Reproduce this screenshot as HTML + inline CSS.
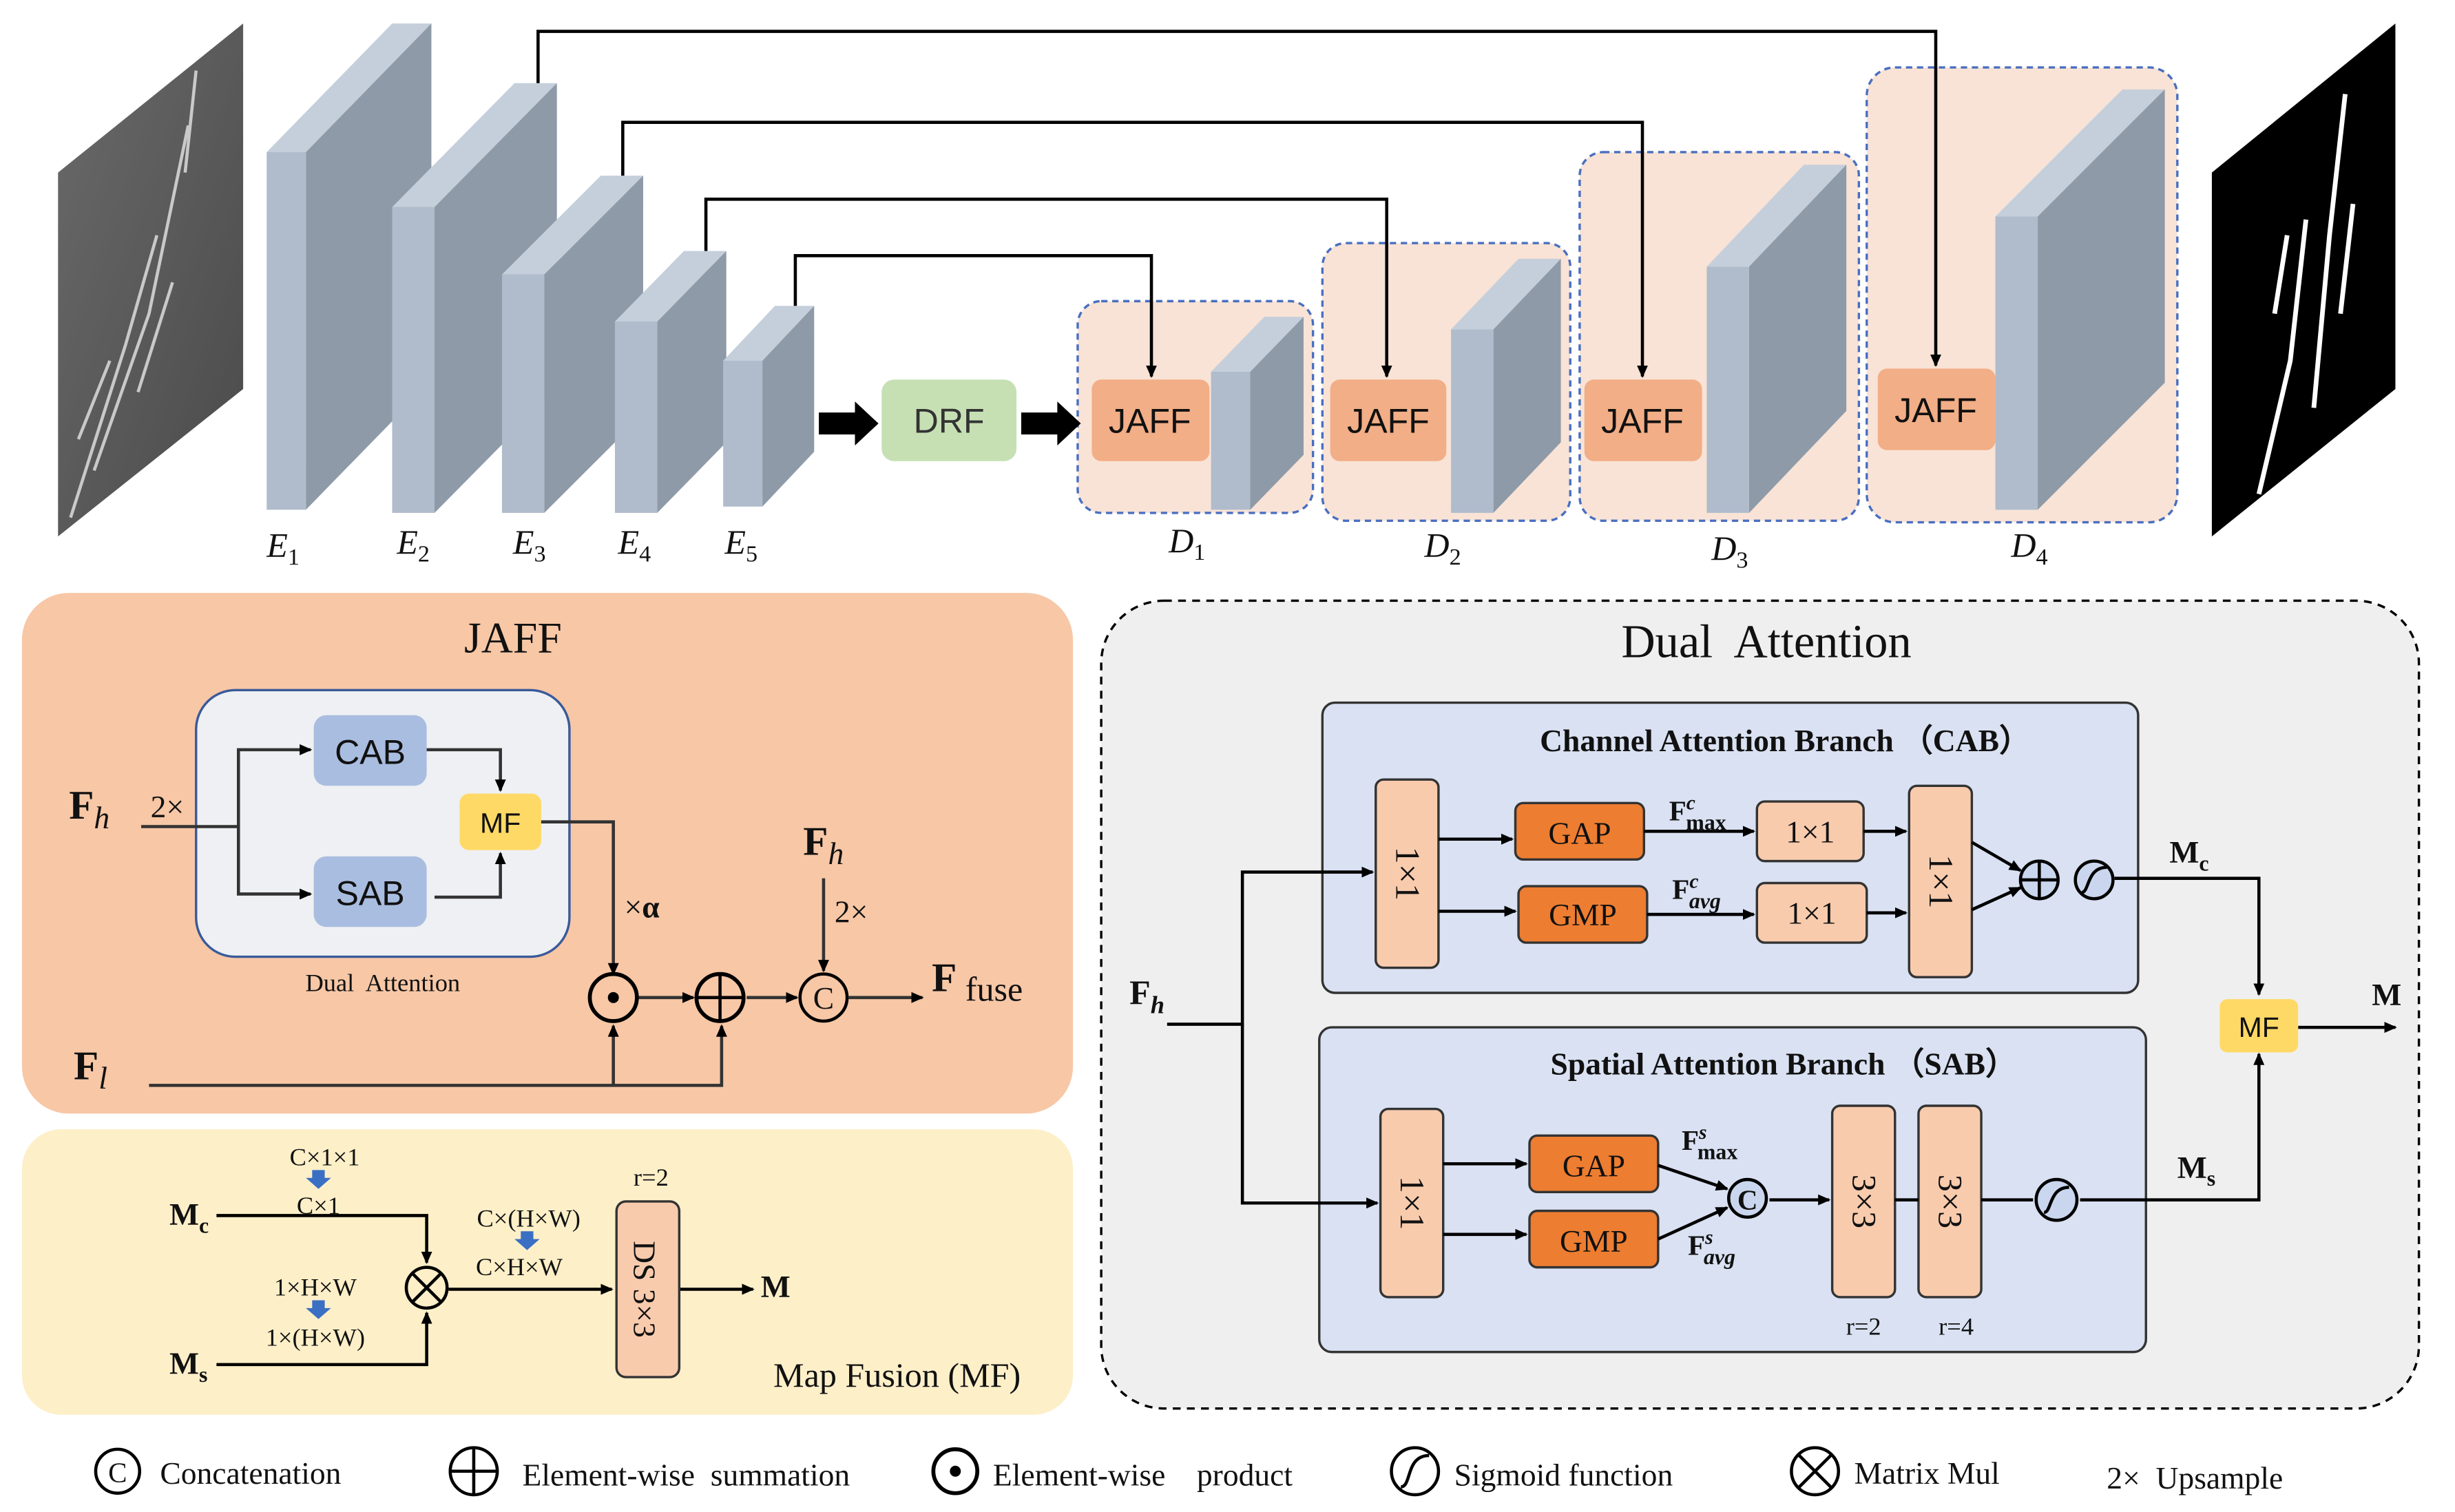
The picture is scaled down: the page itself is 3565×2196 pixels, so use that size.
<!DOCTYPE html>
<html><head><meta charset="utf-8"><style>html,body{margin:0;padding:0;background:#fff}svg{display:block}text{font-family:"Liberation Serif",serif;fill:#111}</style></head>
<body>
<svg width="3565" height="2196" viewBox="0 0 1565 964" preserveAspectRatio="none" xmlns="http://www.w3.org/2000/svg">
<defs>
<marker id="a" markerWidth="8" markerHeight="8" refX="7" refY="4" orient="auto" markerUnits="userSpaceOnUse"><path d="M0,0.5 L8,4 L0,7.5z" fill="#000"/></marker>
<linearGradient id="g1" x1="0" x2="1" y1="0" y2="1"><stop offset="0" stop-color="#6a6a6a"/><stop offset="1" stop-color="#4a4a4a"/></linearGradient>
</defs>
<polygon points="37,110 155,15 155,248 37,342" fill="url(#g1)"/>
<g stroke="#ddd" stroke-width="2" fill="none" opacity="0.85"><path d="M45,330 L80,220 L100,150"/><path d="M60,300 L95,200 L120,80"/><path d="M118,110 L125,45"/><path d="M88,250 L110,180"/><path d="M50,280 L70,230"/></g>
<polygon points="1410,110 1527,15 1527,248 1410,342" fill="#000"/>
<g stroke="#fff" stroke-width="3" fill="none"><path d="M1440,315 L1460,230 L1470,140"/><path d="M1475,260 L1485,150 L1495,60"/><path d="M1492,200 L1500,130"/><path d="M1450,200 L1458,150"/></g>
<polygon points="170,97 250,15 275,15 195,97" fill="#c5cfdb"/><polygon points="195,97 275,15 275,243 195,325" fill="#8e9aa8"/><rect x="170" y="97" width="25" height="228" fill="#b0bccc"/>
<polygon points="250,132 328,53 355,53 277,132" fill="#c5cfdb"/><polygon points="277,132 355,53 355,248 277,327" fill="#8e9aa8"/><rect x="250" y="132" width="27" height="195" fill="#b0bccc"/>
<polygon points="320,175 383,112 410,112 347,175" fill="#c5cfdb"/><polygon points="347,175 410,112 410,264 347,327" fill="#8e9aa8"/><rect x="320" y="175" width="27" height="152" fill="#b0bccc"/>
<polygon points="392,205 436,160 463,160 419,205" fill="#c5cfdb"/><polygon points="419,205 463,160 463,282 419,327" fill="#8e9aa8"/><rect x="392" y="205" width="27" height="122" fill="#b0bccc"/>
<polygon points="461,230 494,195 519,195 486,230" fill="#c5cfdb"/><polygon points="486,230 519,195 519,288 486,323" fill="#8e9aa8"/><rect x="461" y="230" width="25" height="93" fill="#b0bccc"/>
<g fill="#f8e3d6" stroke="#4a6fc0" stroke-width="1.5" stroke-dasharray="4,3">
<rect x="687" y="192" width="150" height="135" rx="15"/><rect x="843" y="155" width="158" height="177" rx="15"/><rect x="1007" y="97" width="178" height="235" rx="15"/><rect x="1190" y="43" width="198" height="290" rx="18"/></g>
<polygon points="772,237 806,202 831,202 797,237" fill="#c5cfdb"/><polygon points="797,237 831,202 831,290 797,325" fill="#8e9aa8"/><rect x="772" y="237" width="25" height="88" fill="#b0bccc"/>
<polygon points="925,210 968,165 995,165 952,210" fill="#c5cfdb"/><polygon points="952,210 995,165 995,282 952,327" fill="#8e9aa8"/><rect x="925" y="210" width="27" height="117" fill="#b0bccc"/>
<polygon points="1088,170 1150,105 1177,105 1115,170" fill="#c5cfdb"/><polygon points="1115,170 1177,105 1177,262 1115,327" fill="#8e9aa8"/><rect x="1088" y="170" width="27" height="157" fill="#b0bccc"/>
<polygon points="1272,138 1353,57 1380,57 1299,138" fill="#c5cfdb"/><polygon points="1299,138 1380,57 1380,244 1299,325" fill="#8e9aa8"/><rect x="1272" y="138" width="27" height="187" fill="#b0bccc"/>
<g fill="#f2ae86"><rect x="696" y="242" width="75" height="52" rx="6"/><rect x="848" y="242" width="74" height="52" rx="6"/><rect x="1010" y="242" width="75" height="52" rx="6"/><rect x="1197" y="235" width="75" height="52" rx="6"/></g>
<rect x="562" y="242" width="86" height="52" rx="8" fill="#c6e0b4"/>
<g font-size="22" text-anchor="middle"><text x="733" y="276" style="font-family:Liberation Sans,sans-serif">JAFF</text><text x="885" y="276" style="font-family:Liberation Sans,sans-serif">JAFF</text><text x="1047" y="276" style="font-family:Liberation Sans,sans-serif">JAFF</text><text x="1234" y="269" style="font-family:Liberation Sans,sans-serif">JAFF</text><text x="605" y="276" style="font-family:Liberation Sans,sans-serif;fill:#333">DRF</text></g>
<polygon points="522,263 545,263 545,256 560,270 545,284 545,277 522,277" fill="#000"/>
<polygon points="651,263 674,263 674,256 689,270 674,284 674,277 651,277" fill="#000"/>
<g fill="none" stroke="#000" stroke-width="2" marker-end="url(#a)">
<path d="M343,53 V20 H1234 V233"/><path d="M397,112 V78 H1047 V240"/><path d="M450,160 V127 H884 V240"/><path d="M507,195 V163 H734 V240"/></g>
<g font-size="22" font-style="italic">
<text x="170" y="355">E<tspan font-size="15" dy="5" font-style="normal">1</tspan></text>
<text x="253" y="353">E<tspan font-size="15" dy="5" font-style="normal">2</tspan></text>
<text x="327" y="353">E<tspan font-size="15" dy="5" font-style="normal">3</tspan></text>
<text x="394" y="353">E<tspan font-size="15" dy="5" font-style="normal">4</tspan></text>
<text x="462" y="353">E<tspan font-size="15" dy="5" font-style="normal">5</tspan></text>
<text x="745" y="352">D<tspan font-size="15" dy="5" font-style="normal">1</tspan></text>
<text x="908" y="355">D<tspan font-size="15" dy="5" font-style="normal">2</tspan></text>
<text x="1091" y="357">D<tspan font-size="15" dy="5" font-style="normal">3</tspan></text>
<text x="1282" y="355">D<tspan font-size="15" dy="5" font-style="normal">4</tspan></text></g>

<rect x="14" y="378" width="670" height="332" rx="30" fill="#f7c7a6"/>
<text x="327" y="416" font-size="28" text-anchor="middle">JAFF</text>
<rect x="125" y="440" width="238" height="170" rx="25" fill="#eef0f3" stroke="#3a5a9a" stroke-width="1.5"/>
<rect x="200" y="456" width="72" height="45" rx="8" fill="#a9bde0"/><rect x="200" y="546" width="72" height="45" rx="8" fill="#a9bde0"/>
<rect x="293" y="506" width="52" height="36" rx="6" fill="#ffd966"/>
<g font-size="22" text-anchor="middle"><text x="236" y="487" style="font-family:Liberation Sans,sans-serif">CAB</text><text x="236" y="577" style="font-family:Liberation Sans,sans-serif">SAB</text><text x="319" y="531" font-size="18" style="font-family:Liberation Sans,sans-serif">MF</text></g>
<text x="244" y="632" font-size="16" text-anchor="middle" xml:space="preserve">Dual  Attention</text>
<g fill="none" stroke="#333" stroke-width="2" marker-end="url(#a)">
<path d="M90,527 H152 V478 H198"/><path d="M152,527 V570 H198"/>
<path d="M272,478 H319 V504"/><path d="M277,572 H319 V544"/>
<path d="M345,524 H391 V621"/>
<path d="M407,636 H442"/><path d="M476,636 H508"/><path d="M541,636 H588"/>
<path d="M525,560 V619"/>
<path d="M95,692 H460 V654"/><path d="M391,692 V654"/></g>
<circle cx="391" cy="636" r="15" fill="none" stroke="#000" stroke-width="2.5"/><circle cx="391" cy="636" r="3.5" fill="#000"/>
<circle cx="459" cy="636" r="15" fill="none" stroke="#000" stroke-width="2.5"/><path d="M444,636 H474 M459,621 V651" stroke="#000" stroke-width="2"/>
<circle cx="525" cy="636" r="15" fill="none" stroke="#000" stroke-width="2"/><text x="525" y="643" font-size="20" text-anchor="middle">C</text>
<text x="44" y="522" font-size="26" font-weight="bold">F<tspan font-size="20" font-style="italic" font-weight="normal" dy="6">h</tspan></text>
<text x="96" y="521" font-size="20">2×</text>
<text x="398" y="585" font-size="20">×<tspan font-weight="bold">α</tspan></text>
<text x="512" y="545" font-size="26" font-weight="bold">F<tspan font-size="20" font-style="italic" font-weight="normal" dy="6">h</tspan></text>
<text x="532" y="588" font-size="20">2×</text>
<text x="594" y="632" font-size="26" font-weight="bold">F<tspan font-size="22" font-weight="normal" dy="6"> fuse</tspan></text>
<text x="47" y="688" font-size="26" font-weight="bold">F<tspan font-size="20" font-style="italic" font-weight="normal" dy="6">l</tspan></text>

<rect x="14" y="720" width="670" height="182" rx="25" fill="#fdefc8"/>
<text x="493" y="884" font-size="22">Map Fusion (MF)</text>
<text x="108" y="781" font-size="20" font-weight="bold">M<tspan font-size="14" dy="5">c</tspan></text>
<text x="108" y="876" font-size="20" font-weight="bold">M<tspan font-size="14" dy="5">s</tspan></text>
<g font-size="16" text-anchor="middle"><text x="207" y="743">C×1×1</text><text x="203" y="774">C×1</text><text x="201" y="826">1×H×W</text><text x="201" y="858">1×(H×W)</text><text x="337" y="782">C×(H×W)</text><text x="331" y="813">C×H×W</text><text x="415" y="756">r=2</text></g>
<g fill="#3a6fc4"><polygon points="199,746 207,746 207,751 211,751 203,758 195,751 199,751"/><polygon points="199,829 207,829 207,834 211,834 203,841 195,834 199,834"/><polygon points="332,785 340,785 340,790 344,790 336,797 328,790 332,790"/></g>
<g fill="none" stroke="#000" stroke-width="2" marker-end="url(#a)"><path d="M138,775 H272 V805"/><path d="M138,870 H272 V837"/><path d="M286,822 H390"/><path d="M433,822 H480"/></g>
<circle cx="272" cy="821" r="13" fill="#fdefc8" stroke="#000" stroke-width="2"/><path d="M263,812 L281,830 M281,812 L263,830" stroke="#000" stroke-width="2"/>
<rect x="393" y="766" width="40" height="112" rx="6" fill="#f8cbad" stroke="#333" stroke-width="1.5"/>
<text transform="translate(404,822) rotate(90)" font-size="20" text-anchor="middle">DS 3×3</text>
<text x="485" y="827" font-size="20" font-weight="bold">M</text>

<rect x="702" y="383" width="840" height="515" rx="40" fill="#efefef" stroke="#000" stroke-width="1.5" stroke-dasharray="5,4"/>
<text x="1126" y="419" font-size="30" text-anchor="middle" xml:space="preserve">Dual  Attention</text>
<rect x="843" y="448" width="520" height="185" rx="8" fill="#d9e1f2" stroke="#333" stroke-width="1.5"/>
<rect x="841" y="655" width="527" height="207" rx="8" fill="#d9e1f2" stroke="#333" stroke-width="1.5"/>
<text x="1138" y="479" font-size="20" font-weight="bold" text-anchor="middle">Channel Attention Branch （CAB）</text>
<text x="1137" y="685" font-size="20" font-weight="bold" text-anchor="middle">Spatial Attention  Branch  （SAB）</text>
<g fill="#f8cbad" stroke="#333" stroke-width="1.5">
<rect x="877" y="497" width="40" height="120" rx="5"/><rect x="1217" y="501" width="40" height="122" rx="5"/>
<rect x="1120" y="511" width="68" height="38" rx="5"/><rect x="1120" y="563" width="70" height="38" rx="5"/>
<rect x="880" y="707" width="40" height="120" rx="5"/><rect x="1168" y="705" width="40" height="122" rx="5"/><rect x="1223" y="705" width="40" height="122" rx="5"/></g>
<g fill="#ed7d31" stroke="#333" stroke-width="1.5"><rect x="966" y="512" width="82" height="36" rx="5"/><rect x="968" y="565" width="82" height="36" rx="5"/><rect x="975" y="724" width="82" height="36" rx="5"/><rect x="975" y="772" width="82" height="36" rx="5"/></g>
<g font-size="20" text-anchor="middle"><text x="1007" y="538">GAP</text><text x="1009" y="590">GMP</text><text x="1016" y="750">GAP</text><text x="1016" y="798">GMP</text><text x="1154" y="537">1×1</text><text x="1155" y="589">1×1</text></g>
<g font-size="22" text-anchor="middle"><text transform="translate(890,557) rotate(90)">1×1</text><text transform="translate(1230,562) rotate(90)">1×1</text><text transform="translate(893,767) rotate(90)">1×1</text><text transform="translate(1181,766) rotate(90)">3×3</text><text transform="translate(1236,766) rotate(90)">3×3</text></g>
<text x="1188" y="851" font-size="16" text-anchor="middle">r=2</text><text x="1247" y="851" font-size="16" text-anchor="middle">r=4</text>
<g font-size="18" font-weight="bold"><text x="1064" y="523">F<tspan font-size="13" font-style="italic" dy="-7">c</tspan><tspan font-size="14" dx="-6" dy="13">max</tspan></text>
<text x="1066" y="573">F<tspan font-size="13" font-style="italic" dy="-7">c</tspan><tspan font-size="14" font-style="italic" dx="-6" dy="13">avg</tspan></text>
<text x="1072" y="733">F<tspan font-size="13" font-style="italic" dy="-7">s</tspan><tspan font-size="14" dx="-6" dy="13">max</tspan></text>
<text x="1076" y="800">F<tspan font-size="13" font-style="italic" dy="-7">s</tspan><tspan font-size="14" font-style="italic" dx="-6" dy="13">avg</tspan></text>
<text x="720" y="640" font-size="22">F<tspan font-size="16" font-style="italic" dy="6">h</tspan></text>
<text x="1383" y="550" font-size="20">M<tspan font-size="14" dy="5">c</tspan></text>
<text x="1388" y="751" font-size="20">M<tspan font-size="14" dy="5">s</tspan></text>
<text x="1512" y="641" font-size="20">M</text></g>
<g fill="none" stroke="#000" stroke-width="2" marker-end="url(#a)">
<path d="M744,653 H792 V556 H875"/><path d="M792,653 V767 H878"/>
<path d="M917,535 H964"/><path d="M917,581 H966"/><path d="M1048,530 H1118"/><path d="M1050,583 H1118"/>
<path d="M1188,530 H1215"/><path d="M1190,582 H1215"/>
<path d="M1257,537 L1288,555"/><path d="M1257,580 L1288,566"/>
<path d="M1348,560 H1440 V634"/>
<path d="M920,742 H973"/><path d="M920,787 H973"/>
<path d="M1057,743 L1101,758"/><path d="M1057,790 L1101,770"/>
<path d="M1128,765 H1166"/><path d="M1326,765 H1440 V672"/>
<path d="M1465,655 H1527"/></g>
<path d="M1208,765 H1223 M1263,765 H1296" stroke="#000" stroke-width="2"/>
<circle cx="1300" cy="561" r="12" fill="#c9d6ee" stroke="#000" stroke-width="2"/><path d="M1288,561 H1312 M1300,549 V573" stroke="#000" stroke-width="2"/>
<circle cx="1335" cy="561" r="12" fill="#c9d6ee" stroke="#000" stroke-width="2"/><path d="M1327,569 C1332,569 1330,553 1343,553" fill="none" stroke="#000" stroke-width="2"/>
<circle cx="1114" cy="764" r="12" fill="#c9d6ee" stroke="#000" stroke-width="2"/><text x="1114" y="771" font-size="18" font-weight="bold" text-anchor="middle">C</text>
<circle cx="1311" cy="765" r="13" fill="#c9d6ee" stroke="#000" stroke-width="2"/><path d="M1303,773 C1308,773 1306,757 1319,757" fill="none" stroke="#000" stroke-width="2"/>
<rect x="1415" y="637" width="50" height="34" rx="5" fill="#ffd966"/><text x="1440" y="661" font-size="18" text-anchor="middle" style="font-family:Liberation Sans,sans-serif">MF</text>

<g font-size="20">
<circle cx="75" cy="938" r="14" fill="none" stroke="#000" stroke-width="2"/><text x="75" y="945" text-anchor="middle" font-size="18">C</text><text x="102" y="946">Concatenation</text>
<circle cx="302" cy="938" r="15" fill="none" stroke="#000" stroke-width="2"/><path d="M287,938 H317 M302,923 V953" stroke="#000" stroke-width="2"/><text x="333" y="947" xml:space="preserve">Element-wise  summation</text>
<circle cx="609" cy="938" r="14" fill="none" stroke="#000" stroke-width="2.5"/><circle cx="609" cy="938" r="3.5" fill="#000"/><text x="633" y="947" xml:space="preserve">Element-wise    product</text>
<circle cx="902" cy="938" r="15" fill="none" stroke="#000" stroke-width="2"/><path d="M893,948 C900,948 896,928 911,928" fill="none" stroke="#000" stroke-width="2"/><text x="927" y="947">Sigmoid function</text>
<circle cx="1157" cy="938" r="15" fill="none" stroke="#000" stroke-width="2"/><path d="M1146,927 L1168,949 M1168,927 L1146,949" stroke="#000" stroke-width="2"/><text x="1182" y="946">Matrix Mul</text>
<text x="1343" y="949" xml:space="preserve">2×  Upsample</text></g>
</svg>
</body></html>
